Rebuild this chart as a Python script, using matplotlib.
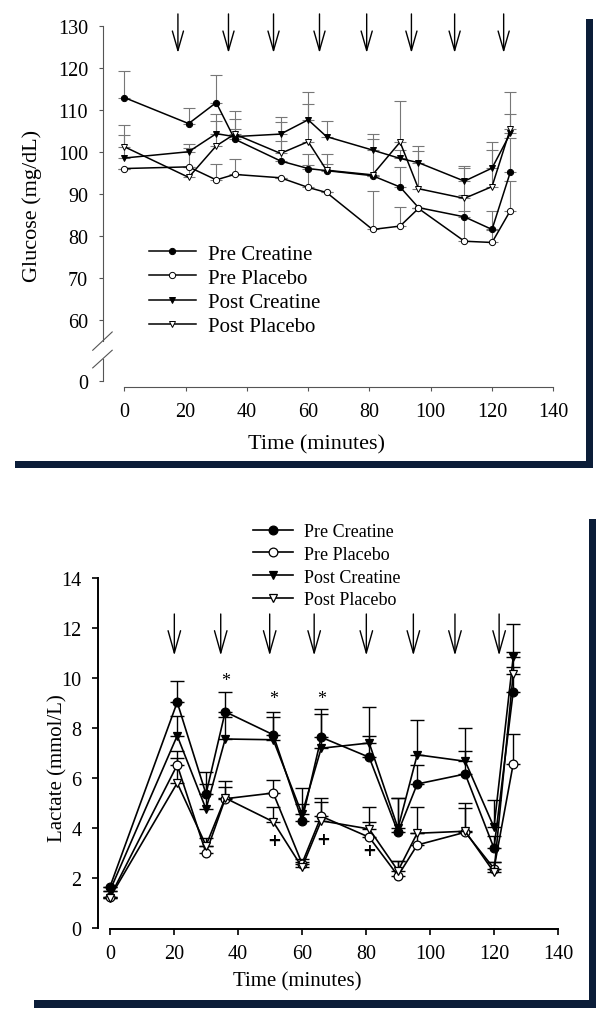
import matplotlib
matplotlib.use("Agg")
import matplotlib.pyplot as plt
from matplotlib.patches import Rectangle

plt.rcParams['font.family'] = 'Liberation Serif'

# sampling times (minutes), same for both panels
times = [0, 21, 30, 36, 51, 60, 66, 81, 90, 96, 111, 120, 126]

# Glucose (mg/dL) and upper error bars
glu_pre_cr = [112.9, 106.7, 111.7, 103.0, 97.8, 96.0, 95.5, 94.3, 91.6, 86.7, 84.5, 81.5, 95.2]
glu_pre_pl = [96.0, 96.4, 93.3, 94.6, 93.8, 91.5, 90.3, 81.5, 82.3, 86.5, 78.7, 78.4, 86.0]
glu_post_cr = [98.5, 100.0, 104.3, 103.6, 104.2, 107.6, 103.6, 100.4, 98.4, 97.4, 93.0, 96.1, 104.4]
glu_post_pl = [101.2, 93.9, 101.4, 104.2, 99.6, 102.4, 95.6, 94.5, 102.3, 91.2, 88.9, 91.7, 105.5]
glu_pre_cr_err = [6.2, 3.6, 6.6, 2.4, 4.8, 3.4, 1.5, 0.0, 4.8, 0.0, 5.2, 4.4, 8.0]
glu_pre_pl_err = [0.0, 0.0, 3.7, 3.6, 0.0, 5.4, 0.0, 9.1, 4.6, 0.0, 7.3, 3.0, 7.0]
glu_post_cr_err = [5.5, 1.9, 4.8, 4.3, 4.1, 6.5, 3.8, 3.9, 2.0, 4.0, 3.6, 6.1, 4.5]
glu_post_pl_err = [5.2, 7.1, 5.8, 5.5, 7.5, 8.9, 3.8, 8.5, 9.7, 9.0, 7.2, 8.7, 8.8]

# Lactate (mmol/L) and upper error bars
lac_pre_cr = [1.65, 9.03, 5.36, 8.65, 7.73, 4.30, 7.63, 6.83, 3.83, 5.76, 6.16, 3.19, 9.45]
lac_pre_pl = [1.25, 6.52, 3.00, 5.17, 5.40, 2.58, 4.47, 3.63, 2.09, 3.32, 3.83, 2.38, 6.56]
lac_post_cr = [1.50, 7.69, 4.76, 7.56, 7.53, 4.56, 7.19, 7.40, 3.99, 6.93, 6.67, 4.03, 10.83]
lac_post_pl = [1.22, 5.80, 3.30, 5.20, 4.25, 2.43, 4.29, 3.96, 2.29, 3.79, 3.87, 2.23, 10.16]
lac_pre_cr_err = [0.0, 0.87, 0.89, 0.80, 0.92, 1.30, 1.13, 0.86, 1.36, 0.77, 0.91, 0.48, 1.0]
lac_pre_pl_err = [0.0, 0.57, 0.30, 0.73, 0.53, 0.20, 0.73, 0.60, 0.60, 0.50, 0.96, 0.25, 1.20]
lac_post_cr_err = [0.0, 0.80, 0.99, 0.90, 0.90, 0.40, 1.37, 1.45, 1.20, 1.40, 1.33, 1.09, 1.32]
lac_post_pl_err = [0.0, 1.00, 0.30, 0.45, 0.60, 0.20, 0.74, 0.89, 0.40, 1.04, 1.13, 0.40, 0.89]

labels = ["Pre Creatine", "Pre Placebo", "Post Creatine", "Post Placebo"]

# exercise bouts (arrows)
arrows_glu = [17.5, 34.0, 48.7, 63.7, 79.1, 93.7, 107.8, 123.8]
arrows_lac = [20.1, 34.6, 49.9, 63.8, 80.1, 94.8, 107.8, 121.6]

# significance marks on lactate panel
star_x = [36, 51, 66]
star_y = [9.9, 9.2, 9.2]
plus_x = [51.4, 66.6, 80.9]
plus_y = [3.5, 3.56, 3.13]

W, H = 600, 1012
navy = '#0b1d38'


def box(x0, y0, x1, y1):
    # pixel box (from top left) -> figure fraction rect
    return [x0 / W, 1 - y1 / H, (x1 - x0) / W, (y1 - y0) / H]


fig = plt.figure(figsize=(6, 10.12), dpi=100)

# dark frame lines
for x0, y0, x1, y1 in [(15, 462, 593, 469), (586, 20, 593, 469),
                       (34, 1001, 596, 1009), (589, 520, 596, 1009)]:
    r = box(x0, y0, x1, y1)
    fig.add_artist(Rectangle((r[0], r[1]), r[2], r[3], transform=fig.transFigure,
                             facecolor=navy, edgecolor='none'))

styles = [('o', 'k'), ('o', 'white'), ('v', 'k'), ('v', 'white')]

# ---------------- Glucose ----------------
ax1 = fig.add_axes(box(103.3, 26.7, 553.3, 381.7))
glu = [glu_pre_cr, glu_pre_pl, glu_post_cr, glu_post_pl]
glu_err = [glu_pre_cr_err, glu_pre_pl_err, glu_post_cr_err, glu_post_pl_err]
for vals, err, (m, fc), lab in zip(glu, glu_err, styles, labels):
    ax1.errorbar(times, vals, yerr=[[0] * len(err), err], fmt='none', ecolor='#777777',
                 elinewidth=0.8, capsize=4, capthick=0.8, zorder=1)
    ax1.plot(times, vals, marker=m, mfc=fc, mec='k', mew=0.7, color='k', lw=1.1,
             ms=4.5, label=lab, zorder=3)

ax1.set_xlim(-6.85, 140)
ax1.set_ylim(45.5, 130)
ax1.set_xticks([0, 20, 40, 60, 80, 100, 120, 140])
ax1.set_yticks([45.5, 60, 70, 80, 90, 100, 110, 120, 130])
ax1.set_yticklabels(['0', '60', '70', '80', '90', '100', '110', '120', '130'])
ax1.spines["right"].set_visible(False)
ax1.spines["top"].set_visible(False)
ax1.spines["bottom"].set_position(('outward', 4.5))
ax1.spines["bottom"].set_bounds(0, 140)
ax1.spines["left"].set_bounds(55.0, 130)
for s in ["left", "bottom"]:
    ax1.spines[s].set_color('#555555')
    ax1.spines[s].set_linewidth(0.8)
ax1.tick_params(colors='#555555', labelcolor='k', width=0.8, length=3, labelsize=14.5)
ax1.tick_params(axis='y', pad=8)
ax1.tick_params(axis='x', pad=8)
# lower piece of the broken y axis and the break marks
ax1.plot([-6.85, -6.85], [45.5, 50.7], color='#555555', lw=0.8, clip_on=False)
ax1.plot([-10.3, -3.95], [52.75, 57.1], color='#555555', lw=0.8, clip_on=False)
ax1.plot([-10.3, -3.95], [48.55, 52.75], color='#555555', lw=0.8, clip_on=False)

for t in arrows_glu:
    ax1.annotate('', xy=(t, 123.5), xytext=(t, 132.8), annotation_clip=False,
                 arrowprops=dict(arrowstyle='->,head_length=1.4,head_width=0.4',
                                 lw=1.0, color='k', shrinkA=0, shrinkB=0))

ax1.set_xlabel("Time (minutes)", fontsize=16)
ax1.xaxis.set_label_coords(0.4745, -0.15)
ax1.set_ylabel("Glucose (mg/dL)", fontsize=16)
ax1.yaxis.set_label_coords(-0.137, 0.4955)
ax1.legend(loc='upper left', bbox_to_anchor=(148.5 / W, 1 - 245 / H),
           bbox_transform=fig.transFigure, frameon=False, fontsize=15,
           borderpad=0, borderaxespad=0, handlelength=2.3, handletextpad=0.55,
           labelspacing=0.22)

# ---------------- Lactate ----------------
ax2 = fig.add_axes(box(98.3, 579, 558, 929))
lac = [lac_pre_cr, lac_pre_pl, lac_post_cr, lac_post_pl]
lac_err = [lac_pre_cr_err, lac_pre_pl_err, lac_post_cr_err, lac_post_pl_err]
for vals, err, (m, fc), lab in zip(lac, lac_err, styles, labels):
    ax2.errorbar(times, vals, yerr=[[0] * len(err), err], fmt='none', ecolor='k',
                 elinewidth=1.0, capsize=5, capthick=1.0, zorder=1)
    ax2.plot(times, vals, marker=m, mfc=fc, mec='k', mew=0.9, color='k', lw=1.2,
             ms=6.3, label=lab, zorder=3)

for x, y in zip(star_x, star_y):
    ax2.text(x, y, '*', ha='center', va='center', fontsize=13)
for x, y in zip(plus_x, plus_y):
    ax2.text(x, y, '+', ha='center', va='center', fontsize=12, fontweight='bold',
             family='DejaVu Sans')

for t in arrows_lac:
    ax2.annotate('', xy=(t, 10.9), xytext=(t, 12.56), annotation_clip=False,
                 arrowprops=dict(arrowstyle='->,head_length=1.6,head_width=0.45',
                                 lw=1.0, color='k', shrinkA=0, shrinkB=0))

ax2.set_xlim(-3.66, 140)
ax2.set_ylim(0, 14)
ax2.set_xticks([0, 20, 40, 60, 80, 100, 120, 140])
ax2.set_yticks([0, 2, 4, 6, 8, 10, 12, 14])
ax2.spines["right"].set_visible(False)
ax2.spines["top"].set_visible(False)
ax2.spines["bottom"].set_bounds(0, 140)
ax2.spines["bottom"].set_position(('outward', 0.7))
ax2.spines["left"].set_bounds(0, 14)
for s in ["left", "bottom"]:
    ax2.spines[s].set_linewidth(1.4)
ax2.tick_params(width=1.2, length=4, labelsize=14.5)
ax2.tick_params(axis='y', pad=8)
ax2.tick_params(axis='x', pad=7)

ax2.set_xlabel("Time (minutes)", fontsize=15)
ax2.xaxis.set_label_coords(0.4322, -0.123)
ax2.set_ylabel("Lactate (mmol/L)", fontsize=15)
ax2.yaxis.set_label_coords(-0.068, 0.461)
ax2.legend(loc='upper left', bbox_to_anchor=(253 / W, 1 - 524 / H),
           bbox_transform=fig.transFigure, frameon=False, fontsize=13,
           borderpad=0, borderaxespad=0, handlelength=2.2, handletextpad=0.65,
           labelspacing=0.32)

fig.savefig("out.png", dpi=100)
